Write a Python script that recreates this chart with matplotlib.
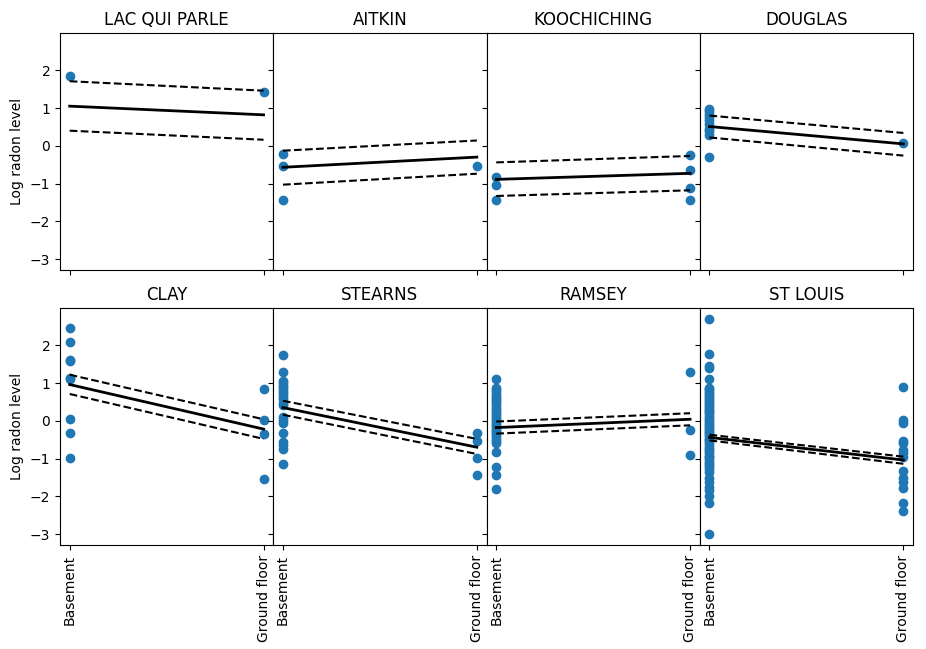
import numpy as np
import matplotlib
matplotlib.use("Agg")
import matplotlib.pyplot as plt

counties = ["LAC QUI PARLE", "AITKIN", "KOOCHICHING", "DOUGLAS",
            "CLAY", "STEARNS", "RAMSEY", "ST LOUIS"]
floor_labels = ["Basement", "Ground floor"]

# observed log radon, basement (x=0) and ground floor (x=1)
basement = [
    [1.85],
    [-0.21, -0.53, -1.44],
    [-0.82, -1.05, -1.44],
    [0.98, 0.91, 0.85, 0.76, 0.69, 0.58, 0.44, 0.38, 0.28, -0.29],
    [2.47, 2.09, 1.60, 1.58, 1.13, 1.11, 0.04, -0.33, -0.98],
    [1.74, 1.29, 1.06, 1.00, 0.93, 0.87, 0.80, 0.74, 0.66, 0.58, 0.47,
     0.41, 0.11, 0.01, -0.06, -0.33, -0.55, -0.64, -0.74, -1.14],
    [1.10, 0.87, 0.82, 0.75, 0.69, 0.64, 0.58, 0.53, 0.47, 0.41, 0.34,
     0.28, 0.22, 0.18, 0.10, 0.05, 0.00, -0.05, -0.10, -0.16, -0.22,
     -0.26, -0.30, -0.36, -0.41, -0.47, -0.53, -0.59, -0.82, -1.23,
     -1.44, -1.82],
    [2.70, 1.76, 1.46, 1.40, 1.12, 0.88, 0.83, 0.79, 0.74, 0.69, 0.64,
     0.59, 0.53, 0.47, 0.41, 0.36, 0.30, 0.26, 0.22, 0.18, 0.10, 0.05,
     0.00, -0.05, -0.10, -0.16, -0.22, -0.26, -0.30, -0.36, -0.41, -0.47,
     -0.51, -0.56, -0.62, -0.69, -0.74, -0.80, -0.86, -0.92, -0.97, -1.02,
     -1.08, -1.14, -1.20, -1.27, -1.35, -1.52, -1.61, -1.75, -1.84, -1.99,
     -2.17, -3.01],
]
ground = [
    [1.43],
    [-0.53],
    [-0.25, -0.64, -1.13, -1.44],
    [0.08],
    [0.83, 0.01, -0.36, -1.54],
    [-0.33, -0.53, -0.98, -1.44],
    [1.29, -0.25, -0.90],
    [0.89, 0.03, -0.06, -0.53, -0.59, -0.77, -0.86, -0.95, -1.32, -1.52,
     -1.63, -1.79, -2.17, -2.40],
]

# fitted line (mean) and interval, at basement / ground floor
mean_b = [1.05, -0.57, -0.89, 0.51, 0.96, 0.35, -0.18, -0.44]
mean_g = [0.82, -0.30, -0.73, 0.05, -0.22, -0.70, 0.04, -1.04]
upper_b = [1.71, -0.13, -0.44, 0.80, 1.22, 0.53, -0.02, -0.37]
upper_g = [1.46, 0.14, -0.27, 0.34, 0.04, -0.48, 0.20, -0.95]
lower_b = [0.40, -1.03, -1.33, 0.22, 0.71, 0.16, -0.34, -0.52]
lower_g = [0.16, -0.74, -1.18, -0.26, -0.48, -0.88, -0.12, -1.14]

fig, axes = plt.subplots(2, 4, figsize=(9.26, 6.49), dpi=100,
                         sharex=True, sharey=True)
fig.subplots_adjust(left=0.0648, right=0.986, top=0.949, bottom=0.160,
                    wspace=0, hspace=0.16)

xs = [0, 1]
for i, ax in enumerate(axes.flat):
    ax.scatter(np.zeros(len(basement[i])), basement[i], color="C0")
    ax.scatter(np.ones(len(ground[i])), ground[i], color="C0")
    ax.plot(xs, [mean_b[i], mean_g[i]], "k-", lw=2)
    ax.plot(xs, [upper_b[i], upper_g[i]], "k--", lw=1.5)
    ax.plot(xs, [lower_b[i], lower_g[i]], "k--", lw=1.5)
    ax.set_title(counties[i])
    ax.set_xticks(xs)
    ax.set_xticklabels(floor_labels, rotation=90)
    if i % 4 == 0:
        ax.set_ylabel("Log radon level")

plt.savefig("out.png")
